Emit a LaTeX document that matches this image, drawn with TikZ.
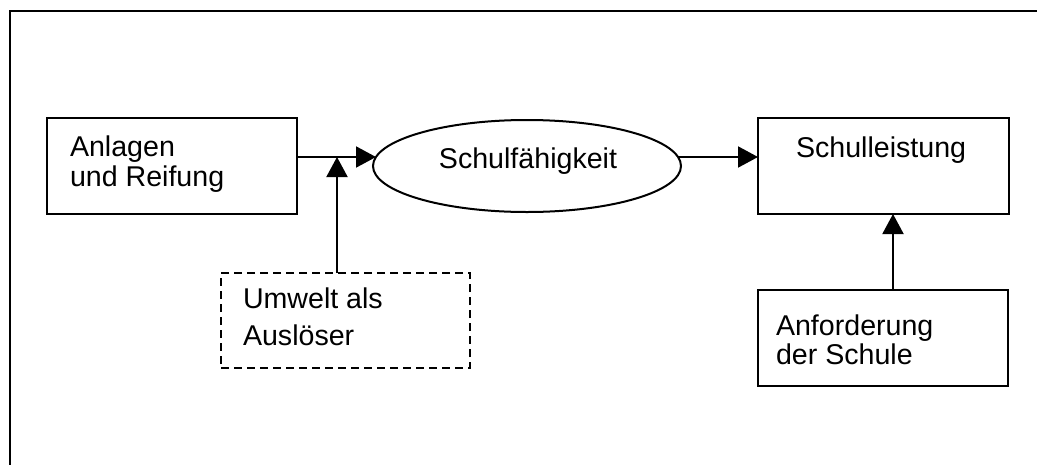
\documentclass[tikz,border=0pt]{standalone}
\usepackage{fontspec}
\setmainfont{Liberation Sans}
\usetikzlibrary{arrows.meta,shapes.geometric,calc}
\begin{document}
\begin{tikzpicture}[x=1pt,y=-1pt,line width=2pt,
  box/.style={draw, rectangle, inner sep=0pt, outer sep=0pt},
  ell/.style={draw, ellipse, inner sep=0pt, outer sep=0pt},
  txt/.style={inner sep=0pt, align=left, font=\fontsize{28.6}{#1}\selectfont},
  txt/.default=30,
  arr/.style={-{Triangle[length=20pt,width=21pt]}}]
\useasboundingbox (0,0) rectangle (1037,464);
\clip (0,0) rectangle (1037,464);
% outer frame (cut off at right and bottom)
\draw[line width=2.5pt] (10,480) -- (10,11) -- (1050,11);
% boxes
\node[box, minimum width=250pt, minimum height=96pt] (anl) at (172,166) {};
\node[ell, minimum width=308pt, minimum height=92pt] (sf) at (527,166) {};
\node[box, minimum width=251pt, minimum height=96pt] (leist) at (883.5,166) {};
\node[box, dashed, dash pattern=on 8pt off 5pt, minimum width=249pt, minimum height=95pt] (umw) at (345.5,320.5) {};
\node[box, minimum width=250pt, minimum height=96pt] (anf) at (883,338) {};
% texts (base anchor = baseline of last line)
\node[txt=30, anchor=base west] (anlt) at (69,186) {Anlagen\\und Reifung};
\node[txt, anchor=base] (sft) at (528,168) {Schulfähigkeit};
\node[txt, anchor=base west] (leistt) at (795,157) {Schulleistung};
\node[txt=37, anchor=base west] (umwt) at (242,345) {Umwelt als\\Auslöser};
\node[txt=29, anchor=base west] (anft) at (775,364) {Anforderung\\der Schule};
% connectors
\coordinate (sfl) at ($(sf.center)+(-151,-9)$);
\coordinate (sfr) at ($(sf.center)+(151,-9)$);
\coordinate (j) at (337,157);
\draw[arr] ([yshift=9pt]anl.east) -- (sfl);
\draw[arr] (sfr) -- ([yshift=9pt]leist.west);
\draw[arr] ([xshift=-8.5pt]umw.north) -- (j);
\draw[arr] ([xshift=10pt]anf.north) -- ([xshift=9.5pt]leist.south);
\end{tikzpicture}
\end{document}
